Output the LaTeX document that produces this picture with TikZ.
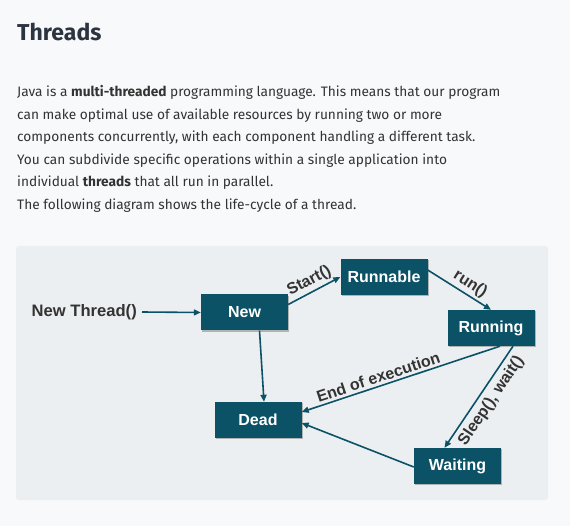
\documentclass[tikz,border=0pt]{standalone}
\usepackage{fontspec}
\setmainfont{Fira Sans}
\newfontfamily\dfont{Liberation Sans}
\usetikzlibrary{arrows.meta,shadows}
\definecolor{pagebg}{HTML}{F8F9FA}
\definecolor{panelbg}{HTML}{ECEFF1}
\definecolor{boxc}{HTML}{0B5266}
\definecolor{titlec}{HTML}{2C3440}
\definecolor{bodyc}{HTML}{333333}
\definecolor{labc}{HTML}{333333}
\begin{document}
\begin{tikzpicture}[x=1pt,y=-1pt,
  txt/.style={inner sep=0pt, anchor=base west, text=bodyc, font=\fontsize{13.7}{17}\selectfont},
  state/.style={fill=boxc, text=white, minimum width=87pt, minimum height=36pt, inner sep=0pt,
     font=\dfont\bfseries\fontsize{16}{19}\selectfont,
     drop shadow={shadow xshift=1pt, shadow yshift=-1.2pt, opacity=0.25, fill=black}},
  conn/.style={draw=boxc, line width=1.6pt, -{Triangle[length=7pt,width=6pt]}},
  lab/.style={text=labc, font=\dfont\bfseries\fontsize{16}{19}\selectfont, inner sep=2.5pt}]
\useasboundingbox (0,0) rectangle (570,526);
\fill[pagebg] (0,0) rectangle (570,526);
\fill[panelbg, rounded corners=3pt] (16,246) rectangle (548,500);

\node[inner sep=0pt, anchor=base west, text=titlec, font=\bfseries\fontsize{23}{27}\selectfont] (title) at (17,41) {Threads};

\node[txt] (l1) at (17,97) {Java is a \textbf{multi-threaded} programming language. This means that our program};
\node[txt] (l2) at (17,119.5) {can make optimal use of available resources by running two or more};
\node[txt] (l3) at (17,142) {components concurrently, with each component handling a different task.};
\node[txt] (l4) at (17,164.5) {You can subdivide specific operations within a single application into};
\node[txt] (l5) at (17,187) {individual \textbf{threads} that all run in parallel.};
\node[txt] (l6) at (17,209.5) {The following diagram shows the life-cycle of a thread.};

\node[state] (new) at (244.5,312.5) {New};
\node[state] (runnable) at (384,277) {Runnable};
\node[state] (running) at (491,328) {Running};
\node[state] (dead) at (258,420) {Dead};
\node[state] (waiting) at (457.5,466) {Waiting};

\node[text=labc, font=\dfont\bfseries\fontsize{16.6}{19}\selectfont, inner sep=0pt, anchor=east] (nt) at (137,312) {New Thread()};

\draw[conn] ([xshift=5pt]nt.east) -- (new.west);
\draw[conn] ([yshift=8pt]new.east) -- node[lab, sloped, above, pos=0.5] {Start()} (runnable.west);
\draw[conn] ([yshift=7pt]runnable.east) -- node[lab, sloped, above, pos=0.58] {run()} (running.north);
\draw[conn] ([xshift=9pt]running.south) -- node[lab, sloped, above, pos=0.6] {End of execution} ([yshift=8pt]dead.east);
\draw[conn] ([xshift=22pt]running.south) -- node[lab, rotate=56, anchor=north, pos=0.47, inner sep=4.5pt] {Sleep(), wait()} ([xshift=-13pt]waiting.north);
\draw[conn] ([xshift=15pt]new.south) -- ([xshift=6pt]dead.north);
\draw[conn] ([yshift=-1pt]waiting.west) -- ([yshift=-3pt]dead.east);
\end{tikzpicture}
\end{document}
